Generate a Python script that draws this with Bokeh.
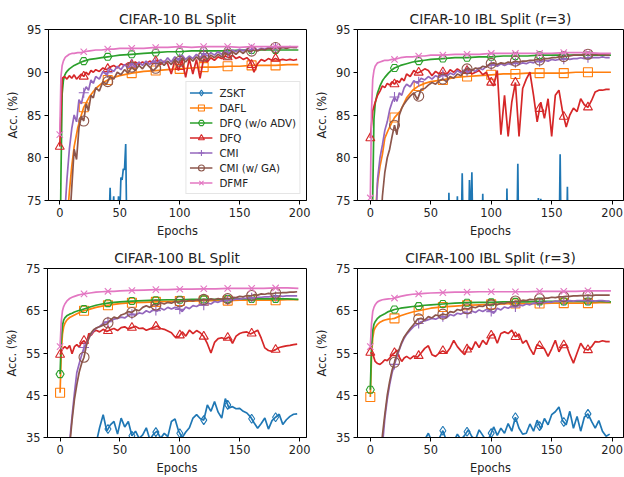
import numpy as np
from bokeh.plotting import figure
from bokeh.layouts import column, row
from bokeh.models import Range1d, FixedTicker, Legend, LegendItem
from bokeh.embed import file_html
from bokeh.resources import INLINE

# ---------------- shared ----------------
METHODS = ["ZSKT", "DAFL", "DFQ (w/o ADV)", "DFQ", "CMI", "CMI (w/ GA)", "DFMF"]
COLORS = ["#1f77b4", "#ff7f0e", "#2ca02c", "#d62728", "#9467bd", "#8c564b", "#e377c2"]
MARKERS = ["diamond", "square", "hex", "triangle", "cross", "circle", "x"]
MARKER_SIZES = [9, 9, 8, 9, 10, 10, 9]
MARK_EPOCHS = [0, 20, 40, 60, 80, 100, 120, 140, 160, 180]
X_TICKS = [0, 50, 100, 150, 200]

# epochs for the smooth curves
EPOCHS_S = [0, 1, 2, 3, 4, 5, 6, 8, 10, 12, 15, 18, 20, 25, 30, 35, 40, 45, 50, 60,
            70, 80, 90, 100, 110, 120, 130, 140, 150, 160, 170, 180, 190, 199]
# epochs for the noisy curves
EPOCHS_N = [0, 2, 4, 6, 8, 10, 12, 14, 16, 18,
            20, 22, 24, 26, 28, 30, 33, 36, 39, 42,
            45, 48, 51, 54, 57, 60, 63, 66, 69, 72,
            75, 78, 81, 84, 87, 90, 93, 96, 99, 102,
            105, 108, 111, 114, 117, 120, 123, 126, 129, 132,
            135, 138, 141, 144, 147, 150, 153, 156, 159, 162,
            165, 168, 171, 174, 177, 180, 183, 186, 189, 192,
            195, 198]

# ---------------- CIFAR-10 BL Split ----------------
c10bl_zskt_x = [0, 10, 20, 30, 40, 41, 42, 43, 44, 45, 46, 48, 49, 50, 51, 52, 53, 54, 55, 56,
                57, 60, 80, 100, 120, 140, 160, 180, 199]
c10bl_zskt = [30, 45, 55, 62, 70, 72, 76.5, 71, 73, 75.5, 71, 72, 75.5, 73, 77.7, 77.4, 78.7, 78.6, 81.6, 70,
              60, 50, 45, 40, 38, 35, 30, 28, 25]
c10bl_dafl = [50.0, 55.0, 60.0, 64.0, 67.0, 70.0, 72.5, 76.0, 79.0, 81.3, 83.5, 85.0, 85.9, 87.2, 88.1, 88.7,
              89.1, 89.4, 89.6, 89.9, 90.1, 90.2, 90.3, 90.4, 90.5, 90.6, 90.6, 90.7, 90.7, 90.8, 90.8,
              90.8, 90.9, 90.9]
c10bl_dfq_noadv = [65.0, 78.0, 87.5, 89.0, 89.6, 89.9, 90.1, 90.4, 90.6, 90.8, 91.0, 91.2, 91.3, 91.5, 91.6,
                   91.7, 91.8, 91.9, 92.0, 92.1, 92.2, 92.3, 92.4, 92.4, 92.5, 92.5, 92.5, 92.5, 92.6, 92.6,
                   92.6, 92.6, 92.6, 92.6]
c10bl_dfq = [81.3, 89.3, 89.5, 89.2, 89.6, 89.3, 89.7, 89.2, 89.5, 89.8,
             89.5, 90.0, 89.7, 90.2, 90.0, 90.3, 90.1, 90.5, 90.3, 90.6,
             90.8, 90.5, 91.0, 90.8, 91.1, 90.9, 91.2, 90.9, 91.2, 91.0,
             91.3, 91.1, 91.4, 90.9, 91.3, 91.0, 89.8, 91.4, 90.2, 91.5,
             89.4, 91.6, 89.8, 91.5, 89.3, 91.6, 91.2, 91.7, 91.4, 91.8,
             91.6, 91.9, 91.7, 92.0, 91.6, 91.8, 91.5, 91.7, 91.3, 90.0,
             91.0, 91.5, 91.3, 91.6, 91.4, 91.6, 91.4, 91.5, 91.4, 91.5,
             91.4, 91.5]
c10bl_cmi = [55.0, 62.0, 73.0, 77.5, 81.0, 83.4, 85.0, 84.2, 86.8, 86.3,
             87.6, 88.3, 87.9, 89.1, 88.7, 89.5, 89.2, 90.1, 89.7, 90.4,
             90.1, 90.7, 90.3, 90.9, 90.5, 91.0, 90.6, 91.2, 90.8, 91.3,
             90.9, 91.4, 91.0, 91.5, 91.1, 91.7, 91.2, 91.8, 91.4, 92.0,
             91.5, 91.9, 91.6, 92.1, 91.7, 92.2, 91.9, 92.3, 92.0, 92.4,
             92.1, 92.5, 92.2, 92.6, 92.4, 92.7, 92.5, 92.7, 92.6, 92.8,
             92.6, 92.8, 92.7, 92.9, 92.8, 92.9, 92.8, 92.9, 92.9, 93.0,
             92.9, 92.9]
c10bl_cmiga = [50.0, 55.0, 62.0, 67.0, 72.0, 76.5, 81.0, 79.8, 83.5, 84.8,
               84.3, 86.3, 85.5, 87.3, 87.0, 88.2, 87.8, 88.9, 88.6, 89.5,
               89.2, 90.0, 89.7, 90.3, 89.9, 90.6, 90.2, 90.8, 90.4, 91.0,
               90.6, 90.2, 90.6, 91.2, 90.8, 91.3, 90.9, 91.5, 91.1, 91.6,
               91.2, 91.7, 91.3, 91.8, 91.4, 91.9, 91.5, 92.0, 91.7, 92.1,
               91.8, 92.3, 92.0, 92.4, 92.1, 92.5, 92.2, 92.6, 92.4, 92.6,
               92.5, 92.7, 92.6, 92.8, 92.7, 92.9, 92.8, 92.9, 92.8, 92.9,
               92.9, 92.9]
c10bl_dfmf = [82.7, 89.5, 90.8, 91.3, 91.6, 91.8, 91.9, 92.1, 92.2, 92.2, 92.3, 92.3, 92.4, 92.5, 92.6, 92.6,
              92.7, 92.7, 92.8, 92.8, 92.8, 92.9, 92.9, 93.0, 92.9, 93.0, 93.0, 93.0, 92.9, 93.0, 93.0,
              93.0, 93.0, 93.0]

# ---------------- CIFAR-10 IBL Split (r=3) ----------------
c10ibl_zskt_x = [0, 20, 40, 60, 64, 65, 66, 71, 72, 73, 75, 76, 77, 81, 82, 83, 84, 85, 92, 93,
                 94, 100, 112, 113, 114, 121, 122, 123, 130, 138, 139, 140, 141, 142, 143, 150, 156, 157, 158, 162,
                 163, 164, 170, 180, 199]
c10ibl_zskt = [20, 40, 55, 62, 66, 75.9, 68, 67, 75.5, 67, 69, 78.2, 70, 68, 77.4, 72, 78.3, 69, 67, 75.8,
               68, 64, 66, 76.4, 67, 68, 79.3, 67, 65, 66, 75.3, 67, 75.2, 68, 65, 64, 68, 80.4, 68, 67,
               76.6, 66, 63, 60, 58]
c10ibl_dafl = [45.0, 55.0, 62.0, 67.0, 70.0, 75.0, 77.0, 79.0, 80.4, 82.3, 83.3, 84.2, 84.7, 85.5, 87.0, 87.9,
               88.4, 88.7, 88.9, 89.1, 89.4, 89.5, 89.6, 89.7, 89.8, 89.8, 89.9, 89.9, 89.9, 89.9, 90.0,
               90.0, 90.0, 90.0]
c10ibl_dfq_noadv = [62.0, 70.0, 75.5, 84.5, 86.3, 87.0, 87.6, 88.4, 89.0, 89.4, 89.9, 90.3, 90.5, 90.8, 91.0,
                    91.2, 91.3, 91.4, 91.5, 91.6, 91.7, 91.7, 91.8, 91.8, 91.9, 91.9, 91.9, 92.0, 92.0, 92.0,
                    92.0, 92.0, 92.0, 92.0]
c10ibl_dfq = [82.3, 85.5, 86.5, 87.3, 87.8, 88.4, 88.2, 88.7, 88.5, 88.9,
              88.6, 89.0, 88.8, 89.3, 89.0, 89.8, 89.5, 90.2, 89.9, 90.1,
              90.4, 90.2, 89.6, 90.1, 89.8, 90.0, 89.7, 90.3, 90.0, 90.4,
              90.1, 89.9, 90.3, 89.8, 90.0, 90.2, 89.7, 90.0, 89.0, 88.4,
              90.2, 82.7, 87.3, 82.5, 86.5, 88.8, 82.5, 88.1, 89.2, 90.0,
              87.3, 84.2, 86.5, 84.6, 86.9, 82.5, 87.3, 87.9, 85.4, 83.6,
              85.0, 85.8, 85.4, 86.9, 86.2, 85.9, 86.7, 87.7, 87.9, 87.9,
              88.0, 88.0]
c10ibl_cmi = [50.0, 60.0, 70.0, 77.5, 80.0, 81.5, 83.2, 84.2, 85.6, 86.5,
              87.1, 86.6, 87.6, 87.3, 88.2, 88.6, 88.3, 89.0, 88.7, 89.3,
              89.1, 89.5, 89.2, 89.6, 89.4, 89.7, 89.5, 89.9, 89.7, 90.2,
              89.9, 90.3, 90.0, 90.3, 90.1, 90.5, 90.3, 90.7, 90.8, 90.9,
              90.7, 91.0, 90.8, 91.0, 90.9, 91.1, 90.9, 91.1, 91.0, 91.2,
              91.1, 91.3, 91.2, 91.4, 91.3, 91.5, 91.4, 91.5, 91.5, 91.6,
              91.5, 91.6, 91.6, 91.7, 91.6, 91.7, 91.7, 91.7, 91.7, 91.8,
              91.7, 91.7]
c10ibl_cmiga = [45.0, 52.0, 58.0, 64.0, 70.0, 75.5, 78.3, 80.0, 81.0, 82.5,
                83.8, 82.7, 85.0, 85.8, 86.3, 86.7, 87.2, 87.6, 86.8, 88.0,
                88.1, 88.5, 88.8, 88.6, 89.0, 89.2, 88.9, 89.5, 89.3, 89.8,
                89.6, 90.2, 90.5, 90.2, 90.5, 90.4, 90.7, 90.6, 91.0, 91.1,
                90.9, 91.1, 91.0, 91.2, 91.1, 91.3, 91.2, 91.3, 91.3, 91.4,
                91.4, 91.5, 91.4, 91.6, 91.6, 91.7, 91.7, 91.8, 91.8, 91.9,
                91.9, 92.0, 92.0, 92.0, 92.1, 92.1, 92.0, 92.1, 92.0, 92.1,
                92.0, 92.0]
c10ibl_dfmf = [75.3, 85.5, 89.2, 90.2, 90.7, 90.9, 91.1, 91.2, 91.3, 91.4, 91.4, 91.5, 91.5, 91.7, 91.8, 91.8,
               91.9, 91.9, 92.0, 92.0, 92.1, 92.1, 92.1, 92.2, 92.2, 92.2, 92.2, 92.2, 92.2, 92.3, 92.3,
               92.3, 92.2, 92.2]

# ---------------- CIFAR-100 BL Split ----------------
c100bl_zskt = [10.0, 12.0, 15.0, 17.0, 19.0, 21.0, 22.0, 24.0, 25.0, 26.0,
               27.0, 28.0, 29.0, 30.0, 31.5, 33.5, 37.3, 40.4, 36.5, 38.0,
               38.8, 35.8, 39.6, 37.5, 38.8, 35.4, 36.5, 34.8, 35.6, 37.3,
               34.5, 35.8, 36.5, 34.8, 36.0, 35.2, 38.8, 39.4, 36.5, 35.0,
               36.3, 37.3, 39.6, 40.4, 39.5, 39.1, 42.7, 41.2, 43.5, 41.0,
               39.6, 44.2, 42.0, 42.3, 41.8, 41.9, 41.2, 40.8, 39.9, 38.5,
               37.2, 38.3, 39.6, 37.0, 39.0, 39.8, 40.5, 38.1, 39.2, 40.0,
               40.5, 40.6]
c100bl_dafl = [45.6, 55.0, 59.5, 61.2, 62.0, 62.5, 62.9, 63.4, 63.7, 64.0, 64.4, 64.8, 65.0, 65.4, 65.8, 66.1,
               66.3, 66.5, 66.7, 66.9, 67.0, 67.1, 67.2, 67.3, 67.3, 67.4, 67.4, 67.4, 67.5, 67.5, 67.5,
               67.5, 67.6, 67.6]
c100bl_dfq_noadv = [50.0, 58.0, 61.5, 62.8, 63.3, 63.6, 63.9, 64.2, 64.4, 64.7, 65.0, 65.2, 65.4, 65.9, 66.3,
                    66.6, 66.8, 67.0, 67.1, 67.3, 67.4, 67.5, 67.6, 67.6, 67.7, 67.7, 67.7, 67.8, 67.8, 67.8,
                    67.8, 67.8, 67.8, 67.7]
c100bl_dfq = [54.6, 56.0, 56.5, 56.0, 56.8, 54.8, 56.5, 57.0, 56.4, 57.5,
              57.9, 57.2, 59.6, 59.2, 60.0, 60.4, 60.0, 60.6, 60.1, 60.5,
              60.8, 60.3, 61.0, 61.2, 60.7, 61.0, 61.3, 60.8, 60.9, 60.4,
              60.7, 61.0, 61.4, 60.8, 60.6, 60.2, 59.8, 58.8, 58.8, 60.0,
              59.0, 60.4, 59.6, 60.3, 59.8, 58.9, 57.2, 55.0, 57.5, 58.4,
              58.6, 58.3, 58.8, 57.3, 59.0, 59.6, 59.9, 60.0, 59.5, 59.9,
              60.4, 58.5, 56.2, 55.6, 55.4, 55.8, 56.3, 56.5, 56.7, 56.8,
              57.0, 57.1]
c100bl_cmi = [10.0, 14.0, 20.0, 27.0, 34.0, 40.0, 45.5, 50.4, 52.5, 54.5,
              56.3, 57.2, 58.5, 59.5, 60.2, 60.8, 61.3, 62.0, 62.3, 62.6,
              63.0, 63.2, 63.5, 63.3, 63.9, 64.2, 63.9, 64.5, 64.3, 65.0,
              64.6, 65.3, 64.9, 65.6, 65.2, 65.8, 65.4, 65.8, 65.6, 64.8,
              65.9, 65.5, 66.2, 66.0, 66.5, 66.3, 66.8, 66.6, 67.2, 67.0,
              67.4, 67.3, 67.6, 67.5, 67.8, 67.7, 68.0, 67.9, 68.1, 68.0,
              68.2, 68.2, 68.3, 68.3, 68.4, 68.4, 68.5, 68.4, 68.5, 68.5,
              68.5, 68.5]
c100bl_cmiga = [8.0, 12.0, 18.0, 25.0, 33.0, 39.0, 44.0, 47.5, 50.5, 52.5,
                54.0, 56.8, 58.5, 59.8, 60.5, 60.9, 61.2, 61.6, 61.8, 62.8,
                63.5, 63.2, 64.0, 64.3, 64.8, 64.6, 65.3, 65.0, 65.8, 66.2,
                65.8, 66.5, 66.3, 66.9, 66.6, 67.0, 66.8, 67.2, 67.0, 67.4,
                67.2, 67.5, 67.3, 67.6, 67.4, 67.7, 67.5, 67.8, 67.6, 67.9,
                67.7, 68.0, 67.8, 68.2, 68.1, 68.4, 68.3, 68.6, 68.5, 68.8,
                68.7, 69.0, 68.9, 69.1, 69.0, 69.2, 69.2, 69.3, 69.3, 69.4,
                69.4, 69.5]
c100bl_dfmf = [56.5, 62.5, 65.0, 66.0, 66.6, 67.0, 67.4, 67.9, 68.2, 68.4, 68.7, 68.9, 69.0, 69.2, 69.4, 69.5,
               69.6, 69.6, 69.7, 69.8, 69.9, 70.0, 70.0, 70.1, 70.1, 70.2, 70.2, 70.3, 70.3, 70.3, 70.3,
               70.4, 70.4, 70.3]

# ---------------- CIFAR-100 IBL Split (r=3) ----------------
c100ibl_zskt = [10.0, 12.0, 14.0, 16.0, 18.0, 20.0, 21.0, 22.0, 23.0, 24.0,
                25.0, 26.0, 27.0, 28.0, 29.0, 30.0, 31.0, 32.0, 32.5, 33.5,
                34.5, 36.0, 34.0, 33.5, 34.8, 36.6, 34.2, 33.5, 34.0, 35.8,
                34.5, 35.5, 36.8, 35.2, 34.5, 36.8, 35.5, 34.2, 35.3, 37.5,
                35.5, 37.2, 36.0, 38.3, 36.5, 39.8, 37.2, 35.8, 36.0, 38.2,
                36.5, 39.1, 37.0, 39.5, 38.0, 40.4, 41.1, 42.2, 39.0, 38.0,
                41.2, 37.2, 40.0, 36.5, 39.8, 40.6, 38.8, 37.2, 39.0, 36.5,
                35.3, 35.8]
c100ibl_dafl = [44.6, 54.0, 58.5, 60.3, 61.0, 61.4, 61.8, 62.3, 62.6, 62.8, 63.0, 63.1, 63.2, 63.8, 64.3, 64.7,
                65.0, 65.3, 65.6, 65.9, 66.1, 66.3, 66.4, 66.5, 66.6, 66.7, 66.7, 66.7, 66.8, 66.8, 66.8,
                66.8, 66.9, 66.9]
c100ibl_dfq_noadv = [46.3, 56.5, 60.3, 61.8, 62.4, 62.8, 63.2, 63.7, 64.0, 64.3, 64.8, 65.1, 65.3, 65.6, 65.8,
                     66.0, 66.1, 66.3, 66.4, 66.6, 66.8, 66.9, 67.0, 67.0, 67.1, 67.1, 67.1, 67.2, 67.2, 67.2,
                     67.2, 67.2, 67.2, 67.1]
c100ibl_dfq = [55.1, 54.8, 53.0, 52.5, 52.3, 52.8, 53.4, 53.2, 53.8, 54.6,
               55.0, 55.7, 54.0, 53.0, 53.8, 54.2, 53.6, 54.3, 54.0, 55.0,
               56.1, 56.7, 54.6, 54.2, 55.0, 55.5, 55.0, 56.2, 58.0, 56.5,
               55.5, 54.6, 56.5, 55.8, 57.7, 56.3, 58.0, 57.0, 59.0, 59.5,
               57.3, 59.6, 60.0, 59.6, 60.4, 58.8, 59.5, 57.3, 58.0, 56.1,
               54.6, 57.0, 56.5, 56.0, 54.2, 56.0, 58.0, 55.3, 56.8, 57.0,
               54.6, 52.6, 55.0, 57.3, 56.0, 55.7, 56.5, 57.7, 57.6, 57.9,
               57.7, 57.7]
c100ibl_cmi = [8.0, 12.0, 17.0, 22.0, 27.0, 33.0, 39.5, 44.0, 47.5, 50.3,
               52.3, 54.2, 55.8, 57.3, 58.5, 59.4, 60.4, 61.3, 61.8, 62.4,
               62.6, 62.9, 63.2, 63.0, 63.4, 63.6, 63.3, 64.1, 63.8, 64.4,
               64.2, 64.7, 64.3, 64.9, 64.6, 65.2, 64.8, 65.3, 65.0, 64.4,
               65.6, 65.2, 65.9, 65.6, 66.1, 65.9, 66.4, 66.2, 66.6, 66.4,
               66.8, 66.7, 67.0, 66.9, 67.1, 67.0, 67.3, 67.2, 67.3, 67.3,
               67.4, 67.3, 67.4, 67.4, 67.4, 67.4, 67.4, 67.3, 67.4, 67.4,
               67.3, 67.3]
c100ibl_cmiga = [8.0, 12.0, 17.0, 23.0, 29.0, 35.5, 40.5, 45.0, 48.3, 51.0,
                 52.8, 54.8, 56.0, 57.6, 58.8, 59.6, 60.8, 61.8, 63.0, 63.2,
                 62.8, 63.6, 63.3, 64.0, 63.8, 64.2, 64.0, 64.8, 64.6, 65.3,
                 65.1, 65.6, 65.4, 65.9, 65.7, 66.1, 66.0, 66.4, 66.3, 66.6,
                 66.4, 66.8, 66.7, 67.0, 66.9, 67.3, 67.2, 67.5, 67.4, 67.7,
                 67.6, 67.9, 67.8, 68.0, 68.0, 68.2, 68.1, 68.3, 68.3, 68.4,
                 68.4, 68.5, 68.5, 68.6, 68.6, 68.7, 68.6, 68.7, 68.7, 68.7,
                 68.7, 68.7]
c100ibl_dfmf = [56.5, 62.0, 64.8, 65.8, 66.4, 66.8, 67.1, 67.4, 67.6, 67.7, 67.8, 67.9, 68.0, 68.4, 68.7, 68.9,
                69.0, 69.1, 69.2, 69.3, 69.4, 69.4, 69.5, 69.5, 69.5, 69.5, 69.5, 69.6, 69.6, 69.6, 69.6,
                69.7, 69.7, 69.7]

FONT = "DejaVu Sans"
TXT = "#222222"


def make_panel(title, series, xr, yr, yticks, width, height, borders, legend=False):
    p = figure(width=width, height=height, x_range=Range1d(*xr), y_range=Range1d(*yr),
               output_backend="svg", toolbar_location=None, tools="")
    p.min_border_left, p.min_border_right, p.min_border_top, p.min_border_bottom = borders
    p.background_fill_color = "white"
    p.border_fill_color = "white"
    p.outline_line_color = "black"
    p.outline_line_width = 1
    p.outline_line_alpha = 1
    p.xgrid.visible = False
    p.ygrid.visible = False

    p.title.text = title
    p.title.align = "center"
    p.title.text_font = FONT
    p.title.text_font_size = "13.7px"
    p.title.text_font_style = "normal"
    p.title.text_color = TXT
    p.title.standoff = 6

    p.xaxis.ticker = FixedTicker(ticks=X_TICKS, minor_ticks=[])
    p.yaxis.ticker = FixedTicker(ticks=yticks, minor_ticks=[])
    p.xaxis.axis_label = "Epochs"
    p.yaxis.axis_label = "Acc. (%)"
    for ax in (p.xaxis[0], p.yaxis[0]):
        ax.axis_label_text_font = FONT
        ax.axis_label_text_font_size = "11.4px"
        ax.axis_label_text_font_style = "normal"
        ax.axis_label_text_color = TXT
        ax.major_label_text_font = FONT
        ax.major_label_text_font_size = "11.4px"
        ax.major_label_text_color = TXT
        ax.major_tick_out = 4
        ax.major_tick_in = 0
        ax.major_tick_line_color = "black"
        ax.axis_line_color = "black"
        ax.major_label_standoff = 3
        ax.axis_label_standoff = 4

    items = []
    for name, color, marker, msize, (xs, ys) in zip(METHODS, COLORS, MARKERS, MARKER_SIZES, series):
        lr = p.line(xs, ys, line_color=color, line_width=1.7)
        my = np.interp(MARK_EPOCHS, xs, ys)
        mr = p.scatter(MARK_EPOCHS, my, marker=marker, size=msize, line_color=color,
                       fill_color=None, line_width=1.1)
        items.append(LegendItem(label=name, renderers=[lr, mr]))

    if legend:
        leg = Legend(items=items, location="bottom_right")
        leg.margin = 6
        leg.padding = 3
        leg.spacing = 0
        leg.label_height = 15
        leg.glyph_height = 15
        leg.glyph_width = 23
        leg.label_standoff = 7
        leg.label_text_font = FONT
        leg.label_text_font_size = "10.3px"
        leg.label_text_color = TXT
        leg.border_line_color = "#cccccc"
        leg.border_line_width = 1
        leg.background_fill_alpha = 0.8
        p.add_layout(leg)
    return p


p1 = make_panel("CIFAR-10 BL Split",
                [(c10bl_zskt_x, c10bl_zskt), (EPOCHS_S, c10bl_dafl), (EPOCHS_S, c10bl_dfq_noadv),
                 (EPOCHS_N, c10bl_dfq), (EPOCHS_N, c10bl_cmi), (EPOCHS_N, c10bl_cmiga), (EPOCHS_S, c10bl_dfmf)],
                (-9.4, 205.8), (75, 95), [75, 80, 85, 90, 95], 312, 240, (48, 6, 29, 38), legend=True)
p2 = make_panel("CIFAR-10 IBL Split (r=3)",
                [(c10ibl_zskt_x, c10ibl_zskt), (EPOCHS_S, c10ibl_dafl), (EPOCHS_S, c10ibl_dfq_noadv),
                 (EPOCHS_N, c10ibl_dfq), (EPOCHS_N, c10ibl_cmi), (EPOCHS_N, c10ibl_cmiga), (EPOCHS_S, c10ibl_dfmf)],
                (-10.6, 209.4), (75, 95), [75, 80, 85, 90, 95], 312, 240, (43, 1, 29, 38))
p3 = make_panel("CIFAR-100 BL Split",
                [(EPOCHS_N, c100bl_zskt), (EPOCHS_S, c100bl_dafl), (EPOCHS_S, c100bl_dfq_noadv),
                 (EPOCHS_N, c100bl_dfq), (EPOCHS_N, c100bl_cmi), (EPOCHS_N, c100bl_cmiga), (EPOCHS_S, c100bl_dfmf)],
                (-10.5, 205.8), (35, 75), [35, 45, 55, 65, 75], 312, 237, (47, 6, 26, 38))
p4 = make_panel("CIFAR-100 IBL Split (r=3)",
                [(EPOCHS_N, c100ibl_zskt), (EPOCHS_S, c100ibl_dafl), (EPOCHS_S, c100ibl_dfq_noadv),
                 (EPOCHS_N, c100ibl_dfq), (EPOCHS_N, c100ibl_cmi), (EPOCHS_N, c100ibl_cmiga), (EPOCHS_S, c100ibl_dfmf)],
                (-10.6, 209.4), (35, 75), [35, 45, 55, 65, 75], 312, 237, (43, 1, 28, 36))

layout = column(row(p1, p2), row(p3, p4))
open("out.html", "w").write(file_html(layout, INLINE))
